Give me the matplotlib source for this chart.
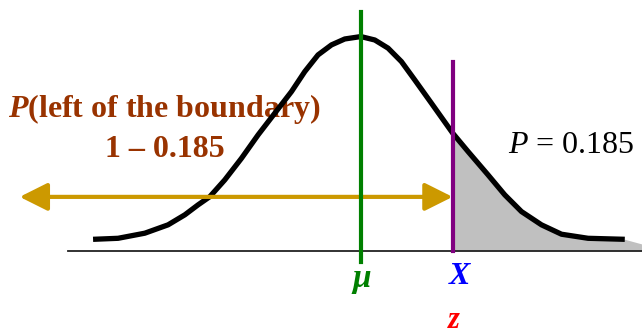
import numpy as np
import matplotlib.pyplot as plt
from matplotlib.patches import FancyArrowPatch

plt.rcParams['mathtext.fontset'] = 'custom'
plt.rcParams['mathtext.it'] = 'Liberation Serif:italic'
plt.rcParams['mathtext.bfit'] = 'Liberation Serif:italic:bold'
plt.rcParams['mathtext.rm'] = 'Liberation Serif'

# bell curve: x in sigma units from mu, height as share of peak
curve_z = [-3.265, -2.960, -2.634, -2.350, -2.146, -1.984, -1.841, -1.659, -1.455,
           -1.252, -1.049, -0.845, -0.683, -0.521, -0.357, -0.195, -0.012, 0.009,
           0.171, 0.333, 0.496, 0.659, 0.862, 1.12, 1.309, 1.552, 1.756, 1.960,
           2.204, 2.448, 2.772, 3.220]
curve_h = [0.003, 0.008, 0.033, 0.074, 0.123, 0.172, 0.212, 0.294, 0.400,
           0.515, 0.621, 0.727, 0.825, 0.907, 0.956, 0.985, 0.996, 0.996,
           0.980, 0.940, 0.874, 0.784, 0.670, 0.524, 0.433, 0.319, 0.221, 0.139,
           0.074, 0.028, 0.008, 0.003]

mu = 0.0
x_bound = 1.12
p_right = 0.185
axis_h = -0.054
shelf_h = -0.02

fig = plt.figure(figsize=(6.42, 3.35), dpi=100)
ax = fig.add_axes([0, 0, 1, 1])
ax.set_xlim(-4.40, 3.43)
ax.set_ylim(-0.466, 1.176)
ax.axis('off')

cz = np.array(curve_z)
ch = np.array(curve_h)

# shaded right tail
tail = cz >= x_bound
fz = np.concatenate([cz[tail], [3.43]])
fh = np.concatenate([ch[tail], [shelf_h]])
ax.fill_between(fz, fh, axis_h, color='#c0c0c0', lw=0, zorder=1)

# horizontal axis
ax.plot([-3.57, 3.43], [axis_h, axis_h], color='#222222', lw=1.3, zorder=2)

# labels on the left
ax.text(-2.40, 0.603, r'$\mathbfit{P}$(left of the boundary)', ha='center', va='baseline',
        fontsize=23, fontweight='bold', family='Liberation Serif', color='#993300', zorder=2)
ax.text(-2.39, 0.407, '1 \u2013 0.185', ha='center', va='baseline',
        fontsize=23, fontweight='bold', family='Liberation Serif', color='#993300', zorder=2)

ax.plot(cz, ch, color='black', lw=3.8, solid_joinstyle='round',
        solid_capstyle='butt', zorder=3)

arrow = FancyArrowPatch((-4.16, 0.211), (x_bound, 0.211),
                        arrowstyle='<|-|>,head_length=1.7,head_width=0.85',
                        mutation_scale=10, lw=3, color='#cc9900',
                        shrinkA=0, shrinkB=0, zorder=4)
ax.add_patch(arrow)

ax.plot([mu, mu], [-0.108, 1.118], color='#008000', lw=3, zorder=5)
ax.plot([x_bound, x_bound], [axis_h, 0.873], color='#800080', lw=3, zorder=5)

ax.text(1.79, 0.426, r'$P$ = %.3f' % p_right, ha='left', va='baseline',
        fontsize=23, family='Liberation Serif', color='black')

ax.text(0.01, -0.23, '\u03bc', ha='center', va='baseline', fontsize=24,
        fontweight='bold', fontstyle='italic', family='Liberation Serif', color='#008000')
ax.text(1.21, -0.216, 'X', ha='center', va='baseline', fontsize=23,
        fontweight='bold', fontstyle='italic', family='Liberation Serif', color='#0000ff')
ax.text(1.13, -0.43, 'z', ha='center', va='baseline', fontsize=22,
        fontweight='bold', fontstyle='italic', family='Liberation Serif', color='#ff0000')

fig.savefig('out.png', dpi=100)
